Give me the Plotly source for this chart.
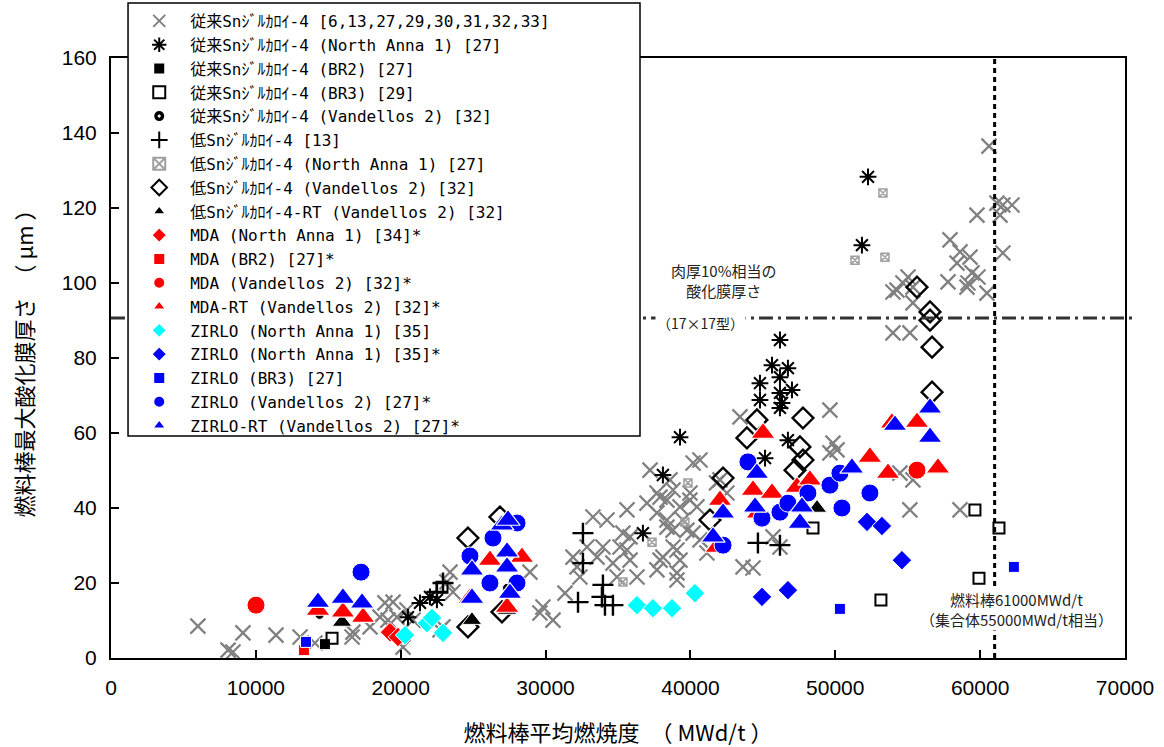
import plotly.graph_objects as go

# ---- data: rod-average burnup (MWd/t) vs. max. oxide thickness (um) ----
conv_x = [6000, 8080, 8420, 9110, 11390, 13050, 14080, 16640, 16700, 17880, 18570, 18910,
          19470, 19120, 20160, 20430, 20850, 22710, 23400, 23190, 23610, 22920, 19740,
          28920, 29820, 30510, 29610, 31340, 31890, 32170, 32370, 33270, 34240, 32860,
          33550, 33960, 34650, 35140, 35620, 35830, 34930, 36310, 35620, 35340, 35830,
          37000, 37690, 38380, 38800, 39280, 37690, 38380, 38800, 39480, 39960, 40450,
          37900, 37690, 39070, 39280, 39070, 40180, 40660, 43630, 44320, 41800,
          43420, 49630, 37210, 38590, 40180, 40660, 39970, 37900, 38380, 39760, 41140,
          38800, 38100, 39070, 45700, 46180, 42040, 42520, 49840, 50120, 49630, 55360,
          54460, 55150, 58610, 53980, 55150, 54260, 55360, 60470, 59090, 57780, 55360,
          60610, 61160, 61570, 62200, 61370, 59780, 61570, 57920, 58610, 59300, 58400,
          59440, 59850, 59160, 55020, 54670, 53980]
conv_y = [8.5, 2.1, 1.6, 6.7, 6.1, 5.6, 4.0, 5.6, 6.9, 8.3, 10.9, 14.7,
          14.9, 10.1, 2.9, 12.8, 10.1, 7.5, 22.9, 20.3, 17.6, 8.3, 10.9,
          22.9, 13.6, 10.1, 12.0, 17.3, 26.9, 24.3, 21.6, 37.6, 36.8, 29.6,
          26.9, 29.6, 25.3, 29.6, 28.8, 26.1, 21.6, 21.6, 39.5, 33.3, 32.3,
          41.3, 44.0, 42.1, 44.8, 40.3, 38.7, 36.8, 34.1, 36.8, 42.1, 40.3,
          26.1, 23.5, 28.8, 26.1, 20.8, 33.3, 31.5, 24.3, 24.0, 46.7,
          64.3, 66.1, 50.1, 47.5, 52.0, 52.8, 44.0, 42.9, 34.9, 34.1, 28.0,
          29.6, 26.9, 22.7, 32.3, 29.6, 47.5, 44.0, 57.3, 55.5, 54.7, 47.5,
          49.3, 39.5, 39.5, 86.7, 86.7, 98.1, 98.9, 97.3, 98.9, 100.3, 94.7,
          136.5, 121.3, 120.8, 120.8, 118.1, 118.1, 108.0, 111.5, 108.3, 106.9, 105.3,
          102.7, 101.6, 100.0, 101.6, 100.0, 97.6]

na1_x = [20500, 21330, 22020, 22500, 36720, 39280, 38100, 46180, 45630, 46730, 44800,
         46180, 47010, 44800, 46180, 46320, 46180, 46730, 45150, 52260, 51840]
na1_y = [10.9, 14.7, 16.3, 15.5, 33.3, 58.9, 48.8, 84.8, 78.1, 77.3, 73.3,
         74.9, 71.5, 68.8, 70.7, 68.0, 66.7, 58.1, 53.3, 128.3, 110.1]

br2_x = [14770]
br2_y = [3.7]

br3_x = [15260, 22850, 48460, 59640, 61300, 59920, 53150]
br3_y = [5.3, 18.9, 34.7, 39.5, 34.7, 21.3, 15.5]

v2_x = [15810, 14400, 27340]
v2_y = [12.3, 11.5, 18.7]

lowsn_x = [32580, 32580, 32240, 33960, 33890, 34100, 34650, 44660, 46180, 22920, 22500]
lowsn_y = [33.3, 25.3, 14.9, 19.5, 16.3, 14.1, 14.1, 30.7, 30.1, 20.0, 17.6]

lowsn_na1_x = [39830, 39620, 35340, 37350, 53290, 51360, 53430]
lowsn_na1_y = [46.7, 36.3, 20.3, 30.9, 124.0, 106.1, 106.9]

lowsn_v2_x = [55640, 56540, 56540, 56680, 56680, 47770, 44590, 43900, 47560, 47770,
              47220, 42250, 41350, 26850, 24640, 26990, 24640]
lowsn_v2_y = [98.9, 92.3, 90.1, 82.9, 70.9, 64.0, 63.5, 58.7, 56.3, 52.8,
              50.1, 48.0, 36.8, 37.6, 32.0, 12.3, 8.3]

lowsn_rt_x = [15950, 24920, 48740, 27340]
lowsn_rt_y = [9.6, 10.1, 40.0, 12.8]

mda_na1_x = [19260, 19810]
mda_na1_y = [6.9, 5.6]

mda_br2_x = [13320]
mda_br2_y = [2.1]

mda_v2_x = [10010, 55640]
mda_v2_y = [14.1, 50.1]

mda_rt_x = [14290, 16010, 17400, 26160, 28370, 24780, 27340, 42040, 41830, 44660,
            44320, 45010, 45630, 47350, 48250, 52390, 53640, 57090, 53910, 55640]
mda_rt_y = [12.8, 12.3, 10.9, 26.1, 26.9, 16.0, 13.6, 42.1, 29.6, 38.7,
            44.8, 60.0, 44.0, 45.6, 47.5, 53.6, 49.3, 50.7, 62.7, 62.9]

zr_na1_x = [20300, 21810, 22160, 22920, 36310, 37410, 38730, 40310]
zr_na1_y = [6.1, 9.3, 10.7, 6.7, 14.1, 13.3, 13.3, 17.3]

zr_na1s_x = [44940, 46730, 52190, 53220, 54600]
zr_na1s_y = [16.3, 18.1, 36.3, 35.2, 26.1]

zr_br3_x = [13460, 50320, 62330]
zr_br3_y = [4.3, 13.1, 24.3]

zr_v2_x = [17260, 24780, 26370, 28030, 26160, 28030, 43970, 49630, 50460, 52390,
           50320, 46180, 46730, 48110, 42250, 44940]
zr_v2_y = [22.9, 27.2, 32.0, 36.0, 20.0, 20.0, 52.3, 46.1, 40.0, 44.0,
           49.3, 38.9, 41.3, 44.0, 30.1, 37.3]

zr_rt_x = [14290, 16010, 17330, 26990, 27410, 24920, 24920, 27340, 27340, 27540,
           42250, 41560, 44460, 44590, 47700, 47560, 51150, 56540, 56540, 54120]
zr_rt_y = [14.9, 16.0, 14.7, 35.5, 36.8, 23.5, 16.0, 28.3, 24.3, 17.3,
           38.7, 32.3, 40.3, 49.3, 40.3, 36.0, 50.7, 66.7, 58.9, 62.1]

# reference levels
limit_oxide = 90.7      # 10% of cladding wall (17x17)
limit_burnup = 61000    # rod burnup limit

RED = "#ff0000"
BLUE = "#0000ff"
CYAN = "#00ffff"
GRAY = "#808080"

series = [
    ("従来Snｼﾞﾙｶﾛｲ-4 [6,13,27,29,30,31,32,33]", conv_x, conv_y,
     dict(symbol="x-thin-open", size=15, color=GRAY, line=dict(color=GRAY, width=2.2))),
    ("従来Snｼﾞﾙｶﾛｲ-4 (North Anna 1) [27]", na1_x, na1_y,
     dict(symbol="asterisk-open", size=14, color="black", line=dict(color="black", width=2))),
    ("従来Snｼﾞﾙｶﾛｲ-4 (BR2) [27]", br2_x, br2_y,
     dict(symbol="square", size=11, color="black", line=dict(color="white", width=1))),
    ("従来Snｼﾞﾙｶﾛｲ-4 (BR3) [29]", br3_x, br3_y,
     dict(symbol="square-open", size=11, color="black", line=dict(color="black", width=2))),
    ("従来Snｼﾞﾙｶﾛｲ-4 (Vandellos 2) [32]", v2_x, v2_y,
     dict(symbol="circle-dot", size=9, color="black", line=dict(color="white", width=1))),
    ("低Snｼﾞﾙｶﾛｲ-4 [13]", lowsn_x, lowsn_y,
     dict(symbol="cross-thin-open", size=15, color="black", line=dict(color="black", width=2.4))),
    ("低Snｼﾞﾙｶﾛｲ-4 (North Anna 1) [27]", lowsn_na1_x, lowsn_na1_y,
     dict(symbol="square-x-open", size=8, color="#a0a0a0", line=dict(color="#a0a0a0", width=1.5))),
    ("低Snｼﾞﾙｶﾛｲ-4 (Vandellos 2) [32]", lowsn_v2_x, lowsn_v2_y,
     dict(symbol="diamond-open", size=16, color="black", line=dict(color="black", width=2.4))),
    ("低Snｼﾞﾙｶﾛｲ-4-RT (Vandellos 2) [32]", lowsn_rt_x, lowsn_rt_y,
     dict(symbol="triangle-up", size=17, color="black", line=dict(color="white", width=1))),
    ("MDA (North Anna 1) [34]*", mda_na1_x, mda_na1_y,
     dict(symbol="diamond", size=15, color=RED, line=dict(color="white", width=1))),
    ("MDA (BR2) [27]*", mda_br2_x, mda_br2_y,
     dict(symbol="square", size=11, color=RED, line=dict(color="white", width=1))),
    ("MDA (Vandellos 2) [32]*", mda_v2_x, mda_v2_y,
     dict(symbol="circle", size=18, color=RED, line=dict(color="white", width=1))),
    ("MDA-RT (Vandellos 2) [32]*", mda_rt_x, mda_rt_y,
     dict(symbol="triangle-up", size=21, color=RED, line=dict(color="white", width=1.2))),
    ("ZIRLO (North Anna 1) [35]", zr_na1_x, zr_na1_y,
     dict(symbol="diamond", size=15, color=CYAN, line=dict(color="white", width=1))),
    ("ZIRLO (North Anna 1) [35]*", zr_na1s_x, zr_na1s_y,
     dict(symbol="diamond", size=15, color=BLUE, line=dict(color="white", width=1))),
    ("ZIRLO (BR3) [27]", zr_br3_x, zr_br3_y,
     dict(symbol="square", size=11, color=BLUE, line=dict(color="white", width=1))),
    ("ZIRLO (Vandellos 2) [27]*", zr_v2_x, zr_v2_y,
     dict(symbol="circle", size=18, color=BLUE, line=dict(color="white", width=1))),
    ("ZIRLO-RT (Vandellos 2) [27]*", zr_rt_x, zr_rt_y,
     dict(symbol="triangle-up", size=21, color=BLUE, line=dict(color="white", width=1.2))),
]

fig = go.Figure()
for rank, (name, xs, ys, mk) in enumerate(series):
    fig.add_trace(go.Scatter(x=xs, y=ys, mode="markers", name=name,
                             marker=mk, legendrank=rank + 1, cliponaxis=False))

# 10% wall-thickness oxide level (dash-dot) and 61000 MWd/t burnup limit (dotted)
fig.add_shape(type="line", xref="paper", yref="y", x0=0, x1=1.01,
              y0=limit_oxide, y1=limit_oxide, layer="above",
              line=dict(color="#333333", width=3, dash="14px,5px,3px,5px"))
fig.add_shape(type="line", xref="x", yref="paper", x0=limit_burnup, x1=limit_burnup,
              y0=0, y1=1, layer="above", line=dict(color="black", width=3, dash="5px,4px"))

# framed white panel that holds the legend entries
fig.add_shape(type="rect", xref="paper", yref="paper",
              x0=0.0168, x1=0.5217, y0=0.37, y1=1.0917, layer="above",
              fillcolor="white", line=dict(color="black", width=1.5))

note_font = dict(family="Noto Sans CJK JP", size=15, color="#222222")
fig.add_annotation(x=42250, y=100.6, text="肉厚10%相当の<br>酸化膜厚さ", showarrow=False,
                   font=note_font, align="center")
fig.add_annotation(x=40700, y=89.3, text="（17×17型）", showarrow=False,
                   font=dict(family="Noto Sans CJK JP", size=14, color="#222222"),
                   bgcolor="white", borderpad=1)
fig.add_annotation(x=62540, y=13.0,
                   text="燃料棒61000MWd/t<br>（集合体55000MWd/t相当）",
                   showarrow=False, font=note_font, align="center",
                   bgcolor="white", borderpad=0)

fig.update_layout(
    width=1164, height=747,
    margin=dict(l=111, r=39, t=58, b=89, autoexpand=False),
    paper_bgcolor="white", plot_bgcolor="white",
    font=dict(family="Liberation Sans, Arial, sans-serif", color="black"),
    showlegend=True,
    legend=dict(
        x=0.017, y=1.09, xanchor="left", yanchor="top",
        maxheight=520,
        itemwidth=52,
        bgcolor="rgba(0,0,0,0)", borderwidth=0,
        font=dict(family="DejaVu Sans Mono, Noto Sans CJK JP, monospace", size=16, color="black"),
        itemsizing="constant",
    ),
    xaxis=dict(
        range=[0, 70000], dtick=10000, tick0=0, tickformat="d",
        automargin=False,
        showgrid=False, zeroline=False,
        showline=True, linecolor="black", linewidth=2, mirror=True,
        ticks="inside", ticklen=8, tickwidth=1.5, tickcolor="black",
        ticklabelstandoff=10,
        tickfont=dict(family="Liberation Sans Narrow, Liberation Sans, Arial", size=21),
        title=dict(text="燃料棒平均燃焼度　（ MWd/t ）",
                   font=dict(family="Noto Sans CJK JP", size=22), standoff=28),
    ),
    yaxis=dict(
        range=[0, 160], dtick=20, tick0=0,
        automargin=False,
        showgrid=False, zeroline=False,
        showline=True, linecolor="black", linewidth=2, mirror=True,
        ticks="inside", ticklen=8, tickwidth=1.5, tickcolor="black",
        ticklabelstandoff=8,
        tickfont=dict(family="Liberation Sans, Arial", size=21),
        title=dict(text="燃料棒最大酸化膜厚さ　（ μm ）",
                   font=dict(family="Noto Sans CJK JP", size=22), standoff=22),
    ),
)

fig.write_html("out.html")
